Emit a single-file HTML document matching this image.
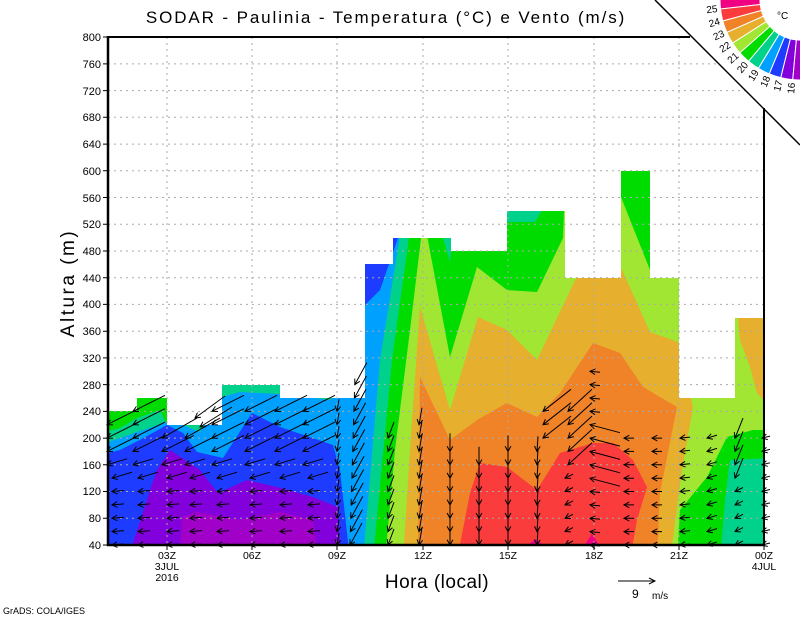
<!DOCTYPE html>
<html><head><meta charset="utf-8"><style>
html,body{margin:0;padding:0;background:#fff;}
svg{display:block;font-family:"Liberation Sans",sans-serif;}
</style></head><body>
<svg id="s" width="800" height="618" viewBox="0 0 800 618" xmlns="http://www.w3.org/2000/svg">
<defs>
<clipPath id="d"><polygon points="108,545 108,411 137,411 137,398 167,398 167,425 222,425 222,385 280,385 280,398 365,398 365,264 393,264 393,238 451,238 451,251 507,251 507,211 565,211 565,278 621,278 621,171 650,171 650,278 679,278 679,398 735,398 735,318 764,318 764,545"/></clipPath>
</defs>
<g clip-path="url(#d)">
<rect x="100" y="160" width="670" height="400" fill="#00dc00"/>
<polygon fill="#00d28c" points="100,560 100,433 120,428 137,418 160,410 167,425 222,380 300,380 365,395 365,250 410,230 392,360 373,560"/>
<polygon fill="#00d28c" points="507,205 545,205 535,222 507,222"/>
<polygon fill="#00d28c" points="443,238 452,238 450,262"/>
<polygon fill="#00d28c" points="720,560 725,500 730,460 770,458 770,560"/>
<polygon fill="#00a0ff" points="100,560 100,445 137,432 167,422 180,424 200,432 222,397 240,392 280,394 330,400 340,392 365,340 365,260 400,236 380,360 363,560"/>
<polygon fill="#1e3cff" points="100,560 100,455 120,450 140,440 167,425 183,433 197,452 223,458 252,413 280,427 333,445 340,470 347,533 350,560"/>
<polygon fill="#1e3cff" points="365,264 393,264 393,238 398,238 380,290 365,305"/>
<polygon fill="#8200dc" points="128,560 133,543 150,490 157,470 170,450 200,470 218,493 247,480 277,487 313,497 338,507 341,560"/>
<polygon fill="#a000c8" points="180,560 182,517 197,512 240,520 280,512 313,520 318,560"/>
<polygon fill="#a0e632" points="385,560 395,450 410,330 422,230 426,230 450,357 477,267 507,290 537,292 563,238 566,160 621,160 621,197 650,270 680,160 770,160 770,430 753,430 727,437 707,477 680,510 677,560"/>
<polygon fill="#e6af2d" points="403,560 412,420 420,307 450,410 478,317 507,330 537,360 580,270 622,270 650,332 678,342 693,407 682,470 670,560"/>
<polygon fill="#e6af2d" points="738,318 770,318 770,407 757,393 750,367 740,340"/>
<polygon fill="#f08228" points="418,560 420,377 450,440 477,420 507,403 537,417 560,393 593,343 620,353 643,387 677,407 673,427 660,493 657,560"/>
<polygon fill="#fa3c3c" points="457,560 470,493 480,463 507,467 537,490 560,453 593,443 613,443 633,460 647,487 637,520 630,560"/>
<polygon fill="#f00082" points="584,546 592,534 600,546"/>
<polygon fill="#f00082" points="527,546 535,539 545,546"/>
</g>
<g stroke="#aaa" stroke-width="1" stroke-dasharray="2,4" fill="none">
<path d="M108,518.3H764M108,491.5H764M108,464.8H764M108,438.1H764M108,411.4H764M108,384.6H764M108,357.9H764M108,331.2H764M108,304.4H764M108,277.7H764M108,251H764M108,224.2H764M108,197.5H764M108,170.8H764M108,144.1H764M108,117.3H764M108,90.6H764M108,63.9H764"/>
<path d="M167,37V545M252,37V545M337,37V545M423,37V545M508,37V545M594,37V545M679,37V545"/>
</g>
<g id="arrows" stroke="#000" stroke-width="1" fill="none"></g>
<polygon points="690,37 800,37 800,145 764,108 " fill="#fff"/>
<g stroke="#000" fill="none">
<path d="M108,37H690" stroke-width="2"/>
<path d="M764,108V545" stroke-width="2"/>
<path d="M108,36V546M107,545H765" stroke-width="2.5"/>
<path d="M655,0L800,145" stroke-width="1.5"/>
<path d="M103,545H108M103,518.3H108M103,491.5H108M103,464.8H108M103,438.1H108M103,411.4H108M103,384.6H108M103,357.9H108M103,331.2H108M103,304.4H108M103,277.7H108M103,251H108M103,224.2H108M103,197.5H108M103,170.8H108M103,144.1H108M103,117.3H108M103,90.6H108M103,63.9H108M103,37H108"/>
<path d="M167,545V550M252,545V550M337,545V550M423,545V550M508,545V550M594,545V550M679,545V550M764,545V550"/>
</g>
<g font-size="11" text-anchor="end" fill="#000">
<text x="101" y="549">40</text><text x="101" y="522">80</text><text x="101" y="495">120</text><text x="101" y="469">160</text><text x="101" y="442">200</text><text x="101" y="415">240</text><text x="101" y="389">280</text><text x="101" y="362">320</text><text x="101" y="335">360</text><text x="101" y="308">400</text><text x="101" y="282">440</text><text x="101" y="255">480</text><text x="101" y="228">520</text><text x="101" y="202">560</text><text x="101" y="175">600</text><text x="101" y="148">640</text><text x="101" y="121">680</text><text x="101" y="95">720</text><text x="101" y="68">760</text><text x="101" y="41">800</text>
</g>
<g font-size="10.5" text-anchor="middle" fill="#000">
<text x="167" y="559">03Z</text><text x="167" y="570">3JUL</text><text x="167" y="581">2016</text>
<text x="252" y="559">06Z</text><text x="337" y="559">09Z</text><text x="423" y="559">12Z</text><text x="508" y="559">15Z</text><text x="594" y="559">18Z</text><text x="679" y="559">21Z</text><text x="764" y="559">00Z</text><text x="764" y="570">4JUL</text>
</g>
<text x="386" y="23" font-size="17" text-anchor="middle" letter-spacing="1.9">SODAR - Paulinia - Temperatura (°C) e Vento (m/s)</text>
<text x="437" y="588" font-size="19" text-anchor="middle" letter-spacing="0.5">Hora (local)</text>
<text transform="translate(74,283) rotate(-90)" font-size="19" text-anchor="middle" letter-spacing="2.5">Altura (m)</text>
<path d="M618,581H654M649,578L655,581L649,584" stroke="#000" fill="none"/>
<text x="632" y="598" font-size="12">9</text><text x="652" y="599" font-size="10">m/s</text>
<text x="3" y="614" font-size="9">GrADS: COLA/IGES</text>
<g id="leg"></g>
<text x="777" y="19" font-size="10">°C</text>
</svg>
<script>
(function(){
var NS="http://www.w3.org/2000/svg";
var leg=document.getElementById('leg');
var cols=["#f00082","#fa3c3c","#f08228","#e6af2d","#a0e632","#00dc00","#00d28c","#00a0ff","#1e3cff","#8200dc","#a000c8"];
var labs=["25","24","23","22","21","20","19","18","17","16"];
var cx=800,cy=0,r0=40,r1=80,st=8.7,a0=182.2;
function P(r,a){a=a*Math.PI/180;return [cx+r*Math.cos(a),cy+r*Math.sin(a)];}
for(var i=0;i<11;i++){var a1=a0-i*st,a2=a1-st;if(i==10)a2=86;
var p1=P(r0,a1),p2=P(r1,a1),p3=P(r1,a2),p4=P(r0,a2);
var pg=document.createElementNS(NS,'path');
pg.setAttribute('d','M'+p1+'L'+p2+'A80,80 0 0 0 '+p3+'L'+p4+'A40,40 0 0 1 '+p1+'Z');
pg.setAttribute('fill',cols[i]);pg.setAttribute('stroke','#fff');pg.setAttribute('stroke-width','1');leg.appendChild(pg);}
for(var j=0;j<10;j++){var a=a0-(j+1)*st;var q=P(83,a);
var t=document.createElementNS(NS,'text');t.setAttribute('x',q[0]);t.setAttribute('y',q[1]);
t.setAttribute('font-size','10');t.setAttribute('text-anchor','end');t.setAttribute('dominant-baseline','middle');
t.setAttribute('transform','rotate('+(a-180)+' '+q[0]+' '+q[1]+')');t.textContent=labs[j];leg.appendChild(t);}
var g=document.getElementById('arrows');
function Y(h){return 545-(h-40)*0.6684;}
function arr(x,y,dx,dy){
var L=Math.sqrt(dx*dx+dy*dy);if(L<1)return;var ux=dx/L,uy=dy/L;
var tx=x-dx,ty=y-dy;var hl=6;
var c=Math.cos(0.5),s=Math.sin(0.5);
var b1x=x-hl*(ux*c-uy*s),b1y=y-hl*(uy*c+ux*s);
var b2x=x-hl*(ux*c+uy*s),b2y=y-hl*(uy*c-ux*s);
var p=document.createElementNS(NS,'path');
p.setAttribute('d','M'+tx.toFixed(1)+','+ty.toFixed(1)+'L'+x+','+y.toFixed(1)+'M'+b1x.toFixed(1)+','+b1y.toFixed(1)+'L'+x+','+y.toFixed(1)+'L'+b2x.toFixed(1)+','+b2y.toFixed(1));
g.appendChild(p);}
function lf(h){ if(h<=120) return [-12,1]; if(h<=160) return [-20,6]; return [-32,16]; }
var left=[[112,220],[138,240],[167,200],[190,200],[217,240],[250,240],[280,240],[308,240]];
left.forEach(function(c){for(var h=40;h<=c[1];h+=20){var v=lf(h);if(h>=200&&(c[0]==167||c[0]==190))v=[-35,20];arr(c[0]+(h>140?-5:0),Y(h),v[0],v[1]);}});
arr(195,418,-30,22);arr(200,427,-32,20);
for(var h=40;h<=240;h+=20)arr(337,Y(h),-2,12);
for(h=40;h<=280;h+=20)arr(350+(h-40)*0.02,Y(h),-12,22);
for(h=40;h<=200;h+=20)arr(388,Y(h),-6,16);
for(h=40;h<=220;h+=20)arr(419,Y(h),-3,17);
for(h=40;h<=180;h+=20)arr(450,Y(h),0,18);
for(h=40;h<=160;h+=20)arr(479,Y(h),0,18);
for(h=40;h<=180;h+=20)arr(508,Y(h),0,16);
for(h=40;h<=180;h+=20)arr(537,Y(h),-1,15);
for(h=200;h<=240;h+=20)arr(543,Y(h),-28,22);
for(h=40;h<=140;h+=20)arr(565,Y(h),-8,4);
for(h=160;h<=240;h+=20)arr(568,Y(h),-24,22);
for(h=40;h<=300;h+=20)arr(590,Y(h),h>120&&h<240?-30:-10,h>120&&h<240?-8:-1);
for(h=40;h<=200;h+=20)arr(624,Y(h),-10,0);
for(h=40;h<=200;h+=20)arr(652,Y(h),-10,0);
for(h=40;h<=200;h+=20)arr(680,Y(h),-10,1);
for(h=40;h<=200;h+=20)arr(707,Y(h),-10,3);
for(h=40;h<=200;h+=20)arr(735,Y(h),-8,h>120?20:4);
for(h=40;h<=200;h+=20)arr(762,Y(h),-8,2);
})();
</script>
</body></html>
